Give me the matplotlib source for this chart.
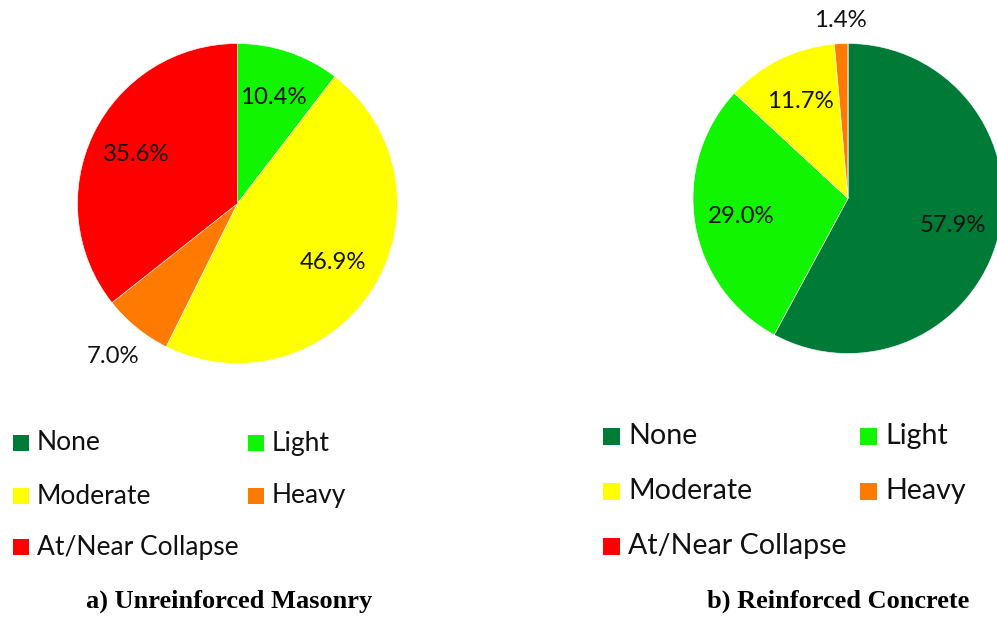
import matplotlib.pyplot as plt
import numpy as np
from matplotlib.patches import Rectangle

categories = ["None", "Light", "Moderate", "Heavy", "At/Near Collapse"]
colors = ["#007A37", "#12F500", "#FFFF00", "#FF7A00", "#FF0000"]
urm_values = [0.0, 10.4, 46.9, 7.0, 35.6]
rc_values = [57.9, 29.0, 11.7, 1.4, 0.0]
captions = ["a) Unreinforced Masonry", "b) Reinforced Concrete"]

W, H = 997, 618
fig = plt.figure(figsize=(W / 100, H / 100), dpi=100)
plt.rcParams['font.family'] = ['Lato', 'DejaVu Sans']


def px_axes(cx, cy, r):
    # axes box from pie centre / radius in pixels (y from top)
    return fig.add_axes([(cx - r) / W, (H - cy - r) / H, 2 * r / W, 2 * r / H])


def draw_pie(ax, values, outside, fs):
    wedges, _ = ax.pie(values, colors=colors, startangle=90, counterclock=False,
                       radius=1.0, wedgeprops=dict(edgecolor='white', linewidth=0.4))
    for w, v in zip(wedges, values):
        if v <= 0:
            continue
        ang = np.deg2rad((w.theta1 + w.theta2) / 2)
        r = outside.get(v, 0.7)
        ax.text(r * np.cos(ang), r * np.sin(ang), f"{v:.1f}%",
                ha='center', va='center', fontsize=fs, color='#111111')
    ax.set_xlim(-1, 1)
    ax.set_ylim(-1, 1)
    ax.set_aspect('equal')
    ax.axis('off')


ax1 = px_axes(237.5, 203.5, 160)
draw_pie(ax1, urm_values, {7.0: 1.23}, 17.3)
ax2 = px_axes(848, 198.5, 155)
draw_pie(ax2, rc_values, {1.4: 1.15}, 17.3)


def draw_legend(x0, x1, ys, sq, fs):
    order = [(0, 0), (1, 1), (2, 0), (3, 1), (4, 0)]
    rows = [0, 0, 1, 1, 2]
    for (i, col), row in zip(order, rows):
        x = x0 if col == 0 else x1
        y = ys[row]
        fig.patches.append(Rectangle((x / W, (H - y - sq / 2) / H), sq / W, sq / H,
                                     transform=fig.transFigure, facecolor=colors[i],
                                     edgecolor='none'))
        fig.text((x + sq + 8) / W, (H - y) / H, categories[i], ha='left',
                 va='center', fontsize=fs, color='#111111')


draw_legend(13, 248, [443, 496, 547], 16, 19)
draw_legend(603, 860, [436, 491, 546], 17, 20.6)

fig.text(229 / W, (H - 601) / H, captions[0], ha='center', va='center',
         fontsize=19, fontweight='bold', family='Liberation Serif')
fig.text(838 / W, (H - 601) / H, captions[1], ha='center', va='center',
         fontsize=19, fontweight='bold', family='Liberation Serif')

fig.savefig("out.png", dpi=100)
